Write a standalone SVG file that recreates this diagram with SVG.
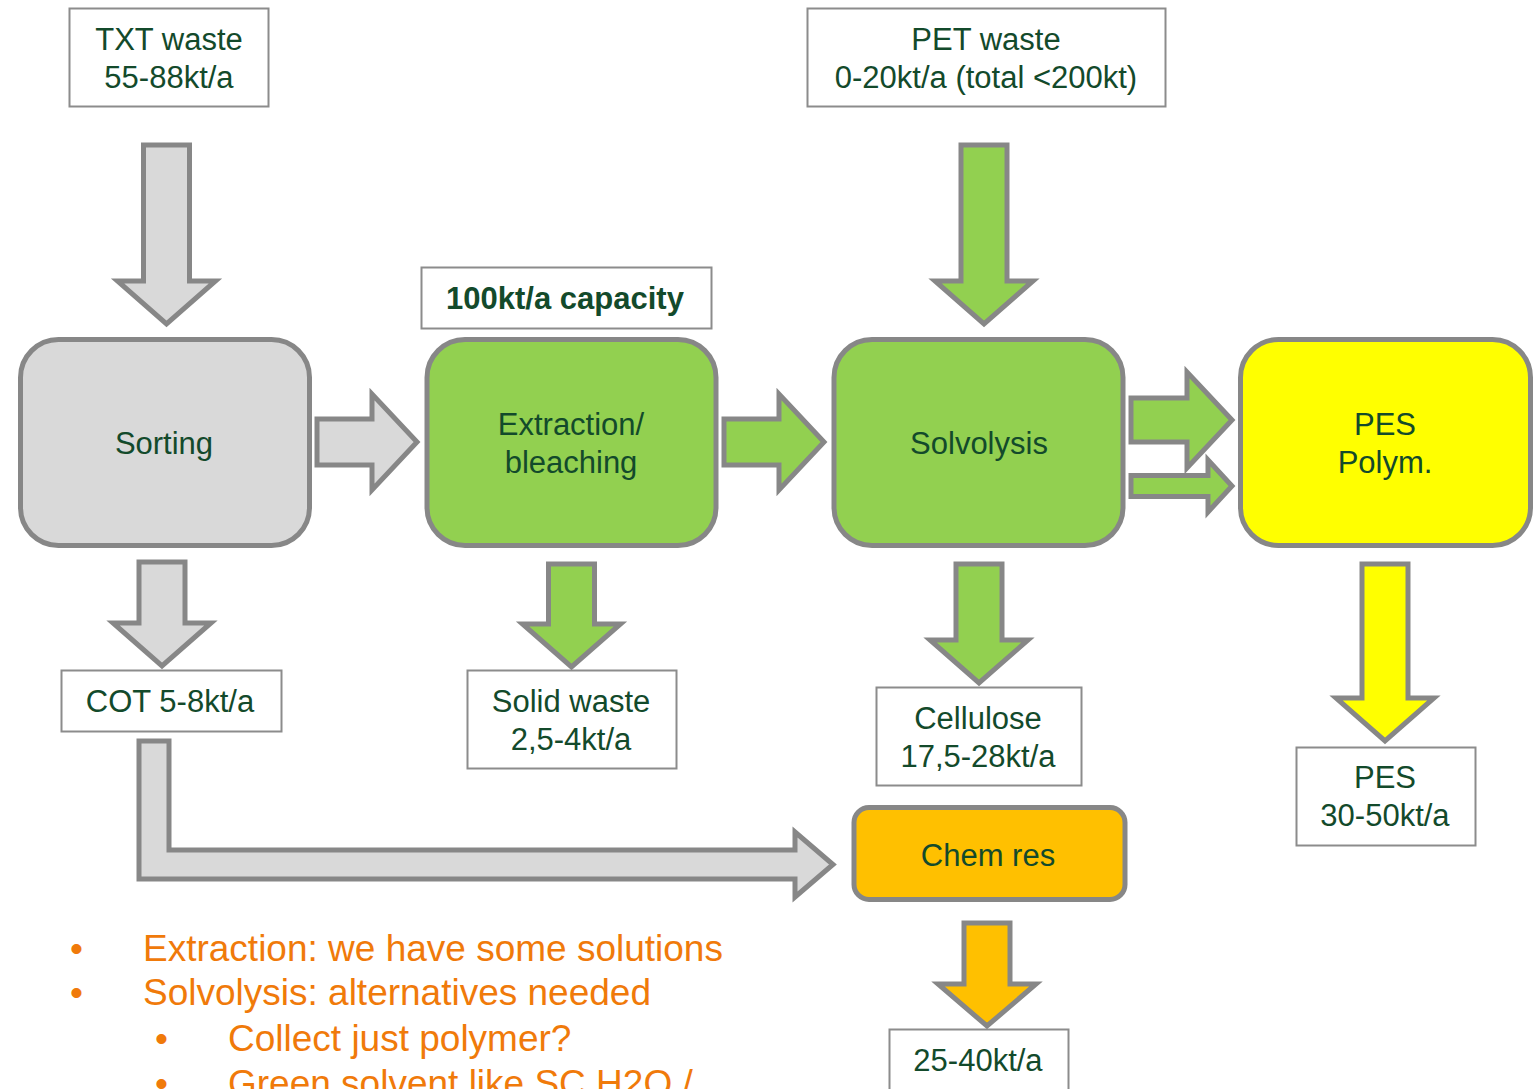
<svg xmlns="http://www.w3.org/2000/svg" width="1540" height="1089" viewBox="0 0 1540 1089">
<style>
.lbl{font-family:"Liberation Sans",Arial,sans-serif;font-size:31px;fill:#134a2b;text-anchor:middle}
.bold{font-weight:bold}
.box{fill:#ffffff;stroke:#8c8c8c;stroke-width:2}
.node{stroke:#878787;stroke-width:5}
.arr{stroke:#878787;stroke-width:5;stroke-linejoin:miter;stroke-miterlimit:10}
.gray{fill:#d9d9d9}
.green{fill:#92d050}
.yellow{fill:#ffff00}
.amber{fill:#ffc000}
.note{font-family:"Liberation Sans",Arial,sans-serif;font-size:37px;fill:#f07a0a}
</style>
<rect width="1540" height="1089" fill="#ffffff"/>

<g id="connectors">
  <!-- TXT waste -> Sorting -->
  <polygon class="arr gray" points="143.5,145 189.5,145 189.5,281 215.5,281 166.5,324 117.5,281 143.5,281"/>
  <!-- PET waste -> Solvolysis -->
  <polygon class="arr green" points="961,145 1007,145 1007,281 1033,281 984,324 935,281 961,281"/>
  <!-- Sorting -> Extraction -->
  <polygon class="arr gray" points="317,419 372,419 372,394 417,442 372,490 372,465 317,465"/>
  <!-- Extraction -> Solvolysis -->
  <polygon class="arr green" points="724,419 779,419 779,394 824,442 779,490 779,465 724,465"/>
  <!-- Solvolysis -> PES Polym. (upper) -->
  <polygon class="arr green" points="1131,398 1187,398 1187,372 1232,420 1187,468 1187,442 1131,442"/>
  <!-- Solvolysis -> PES Polym. (lower) -->
  <polygon class="arr green" points="1131,475.5 1208,475.5 1208,460 1232,486 1208,512 1208,496.5 1131,496.5"/>
  <!-- Sorting -> COT -->
  <polygon class="arr gray" points="139,562 185,562 185,623 211,623 162,666 113,623 139,623"/>
  <!-- Extraction -> Solid waste -->
  <polygon class="arr green" points="548.5,564 594.5,564 594.5,624 620.5,624 571.5,667 522.5,624 548.5,624"/>
  <!-- Solvolysis -> Cellulose -->
  <polygon class="arr green" points="956,564 1002,564 1002,640 1028,640 979,683 930,640 956,640"/>
  <!-- PES Polym. -> PES -->
  <polygon class="arr yellow" points="1362,564 1408,564 1408,698 1434,698 1385,741 1336,698 1362,698"/>
  <!-- COT -> Chem res -->
  <polygon class="arr gray" points="139,741 169,741 169,850 795,850 795,832 833,864.5 795,897 795,879 139,879"/>
  <!-- Chem res -> 25-40kt/a -->
  <polygon class="arr amber" points="964,923 1010,923 1010,984 1036,984 987,1026 938,984 964,984"/>
</g>

<g id="txt-waste">
  <rect class="box" x="69.5" y="8.5" width="199" height="98"/>
  <text class="lbl" x="169" y="50">TXT waste</text>
  <text class="lbl" x="169" y="88">55-88kt/a</text>
</g>

<g id="pet-waste">
  <rect class="box" x="807.5" y="8.5" width="358" height="98"/>
  <text class="lbl" x="986" y="50">PET waste</text>
  <text class="lbl" x="986" y="88">0-20kt/a (total &lt;200kt)</text>
</g>

<g id="capacity">
  <rect class="box" x="421.5" y="267.5" width="290" height="61"/>
  <text class="lbl bold" x="565" y="309">100kt/a capacity</text>
</g>

<g id="sorting">
  <rect class="node gray" x="20.5" y="339.5" width="289" height="206" rx="38"/>
  <text class="lbl" x="164" y="454">Sorting</text>
</g>

<g id="extraction">
  <rect class="node green" x="427" y="339.5" width="289" height="206" rx="38"/>
  <text class="lbl" x="571" y="435">Extraction/</text>
  <text class="lbl" x="571" y="473">bleaching</text>
</g>

<g id="solvolysis">
  <rect class="node green" x="834" y="339.5" width="289" height="206" rx="38"/>
  <text class="lbl" x="979" y="454">Solvolysis</text>
</g>

<g id="pes-polym">
  <rect class="node yellow" x="1240.5" y="339.5" width="290" height="206" rx="38"/>
  <text class="lbl" x="1385" y="435">PES</text>
  <text class="lbl" x="1385" y="473">Polym.</text>
</g>

<g id="cot">
  <rect class="box" x="61.5" y="670.5" width="220" height="61"/>
  <text class="lbl" x="170" y="712">COT 5-8kt/a</text>
</g>

<g id="solid-waste">
  <rect class="box" x="467.5" y="670.5" width="209" height="98"/>
  <text class="lbl" x="571" y="712">Solid waste</text>
  <text class="lbl" x="571" y="750">2,5-4kt/a</text>
</g>

<g id="cellulose">
  <rect class="box" x="876.5" y="687.5" width="205" height="98"/>
  <text class="lbl" x="978" y="729">Cellulose</text>
  <text class="lbl" x="978" y="767">17,5-28kt/a</text>
</g>

<g id="pes-out">
  <rect class="box" x="1296.5" y="747.5" width="179" height="98"/>
  <text class="lbl" x="1385" y="788">PES</text>
  <text class="lbl" x="1385" y="826">30-50kt/a</text>
</g>

<g id="chem-res">
  <rect class="node amber" x="854" y="807.5" width="271" height="92" rx="15"/>
  <text class="lbl" x="988" y="866">Chem res</text>
</g>

<g id="chem-out">
  <rect class="box" x="889.5" y="1029.5" width="179" height="80"/>
  <text class="lbl" x="978" y="1071">25-40kt/a</text>
</g>

<g id="notes">
  <text class="note" x="70" y="961">•</text>
  <text class="note" x="143" y="961">Extraction: we have some solutions</text>
  <text class="note" x="70" y="1005">•</text>
  <text class="note" x="143" y="1005">Solvolysis: alternatives needed</text>
  <text class="note" x="155" y="1051">•</text>
  <text class="note" x="228" y="1051">Collect just polymer?</text>
  <text class="note" x="155" y="1096">•</text>
  <text class="note" x="228" y="1096">Green solvent like SC H2O /</text>
</g>
</svg>
